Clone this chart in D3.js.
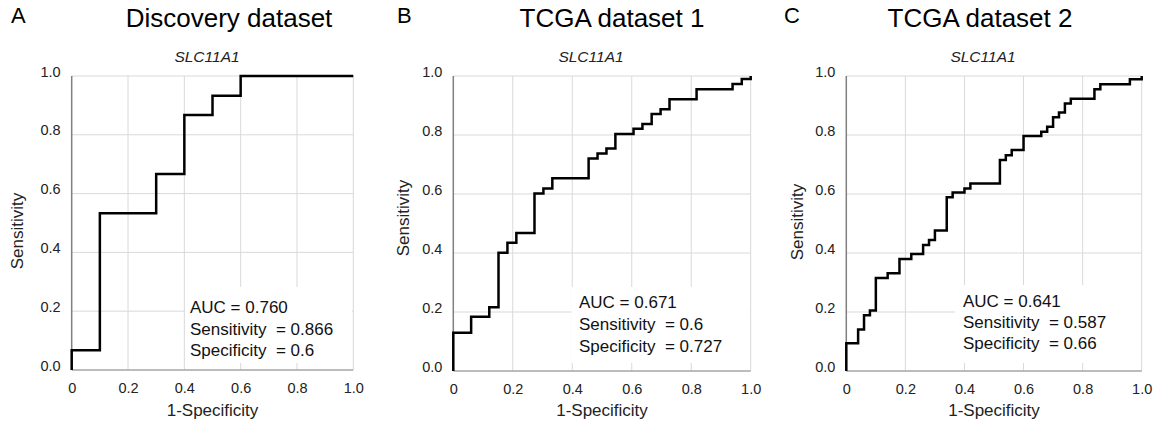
<!DOCTYPE html>
<html>
<head>
<meta charset="utf-8">
<script src="https://cdn.jsdelivr.net/npm/d3@7"></script>
<style>
    body { margin: 0; background: #fff; }
    svg { font-family: "Liberation Sans", Arial, sans-serif; }
    .grid line { stroke: #d9d9d9; stroke-width: 1; }
    .axis text { fill: #222; font-size: 14.5px; }
    .axis .tick line { display: none; }
    .roc { fill: none; stroke: #000; stroke-width: 2.5; stroke-linejoin: miter; }
    .stats text { font-size: 17px; fill: #111; white-space: pre; }
</style>
</head>
<body>
<script>
// panel headings
const panelLetters = ["A", "B", "C"];
const panelTitles = ["Discovery dataset", "TCGA dataset 1", "TCGA dataset 2"];
const geneName = "SLC11A1";

// tick labels shared by every panel
const xTickValues = [0, 0.2, 0.4, 0.6, 0.8, 1.0];
const xTickLabels = ["0", "0.2", "0.4", "0.6", "0.8", "1.0"];
const yTickValues = [0, 0.2, 0.4, 0.6, 0.8, 1.0];
const yTickLabels = ["0.0", "0.2", "0.4", "0.6", "0.8", "1.0"];

// ROC corner points (1-specificity, sensitivity)
const discoveryFpr = [0, 0, 0.1, 0.3, 0.4, 0.5, 0.6, 1.0];
const discoveryTpr = [0, 0.067, 0.533, 0.667, 0.867, 0.933, 1.0, 1.0];

const tcga1Fpr = [0, 0, 0.06, 0.121, 0.152, 0.182, 0.212, 0.273, 0.303, 0.333, 0.455, 0.485,
    0.515, 0.545, 0.606, 0.636, 0.667, 0.697, 0.727, 0.818, 0.939, 0.97, 1.0];
const tcga1Tpr = [0, 0.13, 0.184, 0.216, 0.401, 0.435, 0.468, 0.602, 0.619, 0.653, 0.72, 0.737,
    0.754, 0.803, 0.821, 0.837, 0.871, 0.887, 0.921, 0.955, 0.973, 0.99, 1.0];

const tcga2Fpr = [0, 0, 0.04, 0.06, 0.08, 0.10, 0.14, 0.18, 0.22, 0.26, 0.28, 0.30, 0.34, 0.36, 0.40,
    0.42, 0.52, 0.54, 0.56, 0.60, 0.66, 0.68, 0.70, 0.72, 0.74, 0.76, 0.84, 0.86, 0.96, 1.0];
const tcga2Tpr = [0, 0.094, 0.141, 0.189, 0.205, 0.315, 0.331, 0.38, 0.397, 0.427, 0.444, 0.476, 0.589,
    0.605, 0.619, 0.636, 0.715, 0.731, 0.749, 0.797, 0.811, 0.828, 0.86, 0.876, 0.907, 0.923, 0.955,
    0.972, 0.989, 1.0];

// summary text in the box of each panel
const aucValues = ["0.760", "0.671", "0.641"];
const sensitivityValues = ["0.866", "0.6", "0.587"];
const specificityValues = ["0.6", "0.727", "0.66"];

const fprSeries = [discoveryFpr, tcga1Fpr, tcga2Fpr];
const tprSeries = [discoveryTpr, tcga1Tpr, tcga2Tpr];

// pixel layout of each panel (plot area + where headings sit)
const layout = [
    { left: 71.7, right: 353.3, top: 76, bottom: 370, letterX: 11, titleX: 229, geneX: 207, yTitleX: 17, yTitleY: 231,
      box: { x: 185, y: 287, w: 167, h: 76 }, textX: 190, textY: 313, lineH: 21.5 },
    { left: 453.3, right: 750.7, top: 76, bottom: 371, letterX: 397, titleX: 612, geneX: 591, yTitleX: 403, yTitleY: 218,
      box: { x: 571.5, y: 287, w: 178, h: 76 }, textX: 579, textY: 308, lineH: 21.8 },
    { left: 846.3, right: 1141.7, top: 76, bottom: 371, letterX: 784, titleX: 980, geneX: 983, yTitleX: 797, yTitleY: 222,
      box: { x: 955, y: 285, w: 186, h: 78 }, textX: 963, textY: 307, lineH: 20.8 }
];

class RocPanel {
    constructor(args) {
        this.svg = args.svg;
        this.i = args.index;
        this.lay = layout[this.i];
        this.draw();
    }

    draw() {
        const L = this.lay;
        this.xScale = d3.scaleLinear().domain([0, 1]).range([L.left, L.right]);
        this.yScale = d3.scaleLinear().domain([0, 1]).range([L.bottom, L.top]);
        this.g = this.svg.append("g").attr("class", "panel");

        this.addHeadings();
        this.addGrid();
        this.addStatsBox();
        this.addAxes();
        this.addCurve();
        this.addStatsText();
    }

    addHeadings() {
        const L = this.lay;
        this.g.append("text")
            .attr("x", L.letterX).attr("y", 22.5)
            .style("font-size", "22px")
            .text(panelLetters[this.i]);

        this.g.append("text")
            .attr("x", L.titleX).attr("y", 27)
            .attr("text-anchor", "middle")
            .style("font-size", "26px")
            .text(panelTitles[this.i]);

        this.g.append("text")
            .attr("x", L.geneX).attr("y", 62)
            .attr("text-anchor", "middle")
            .style("font-size", "15.5px")
            .style("font-style", "italic")
            .style("fill", "#222")
            .text(geneName);
    }

    addGrid() {
        const grid = this.g.append("g").attr("class", "grid");
        grid.selectAll(".vx")
            .data(xTickValues.slice(1))
            .enter().append("line")
            .attr("x1", d => this.xScale(d)).attr("x2", d => this.xScale(d))
            .attr("y1", this.yScale(0)).attr("y2", this.yScale(1));
        grid.selectAll(".hy")
            .data(yTickValues.slice(1))
            .enter().append("line")
            .attr("x1", this.xScale(0)).attr("x2", this.xScale(1))
            .attr("y1", d => this.yScale(d)).attr("y2", d => this.yScale(d));
    }

    addStatsBox() {
        const b = this.lay.box;
        this.g.append("rect")
            .attr("x", b.x).attr("y", b.y)
            .attr("width", b.w).attr("height", b.h)
            .style("fill", "#fff");
    }

    addAxes() {
        const L = this.lay;
        const xAxis = this.g.append("g")
            .attr("class", "x axis")
            .attr("transform", "translate(0," + L.bottom + ")")
            .call(d3.axisBottom(this.xScale)
                .tickValues(xTickValues)
                .tickFormat((d, k) => xTickLabels[k])
                .tickSize(0));
        xAxis.select(".domain").remove();
        xAxis.selectAll("text").attr("y", 23).attr("dy", 0);

        const yAxis = this.g.append("g")
            .attr("class", "y axis")
            .attr("transform", "translate(" + L.left + ",0)")
            .call(d3.axisLeft(this.yScale)
                .tickValues(yTickValues)
                .tickFormat((d, k) => yTickLabels[k])
                .tickSize(0));
        yAxis.select(".domain").remove();
        yAxis.selectAll("text").attr("x", -11).attr("dy", 0);

        // axis lines: left darker, bottom a mid grey
        this.g.append("line")
            .attr("x1", this.xScale(0)).attr("x2", this.xScale(1))
            .attr("y1", this.yScale(0)).attr("y2", this.yScale(0))
            .style("stroke", "#a6a6a6").style("stroke-width", 1.5);
        this.g.append("line")
            .attr("x1", this.xScale(0)).attr("x2", this.xScale(0))
            .attr("y1", this.yScale(0)).attr("y2", this.yScale(1))
            .style("stroke", "#7f7f7f").style("stroke-width", 1.5);

        this.g.append("text")
            .attr("x", (L.left + L.right) / 2).attr("y", 416)
            .attr("text-anchor", "middle")
            .style("font-size", "17px").style("fill", "#222")
            .text("1-Specificity");

        this.g.append("text")
            .attr("transform", "translate(" + L.yTitleX + "," + L.yTitleY + ") rotate(-90)")
            .attr("text-anchor", "middle")
            .attr("dy", "0.35em")
            .style("font-size", "17px").style("fill", "#222")
            .text("Sensitivity");
    }

    addCurve() {
        const fpr = fprSeries[this.i];
        const tpr = tprSeries[this.i];
        const line = d3.line()
            .x(k => this.xScale(fpr[k]))
            .y(k => this.yScale(tpr[k]))
            .curve(d3.curveStepAfter);
        this.g.append("path")
            .datum(d3.range(fpr.length))
            .attr("class", "roc")
            .attr("d", line);
    }

    addStatsText() {
        const L = this.lay;
        const lines = [
            "AUC = " + aucValues[this.i],
            "Sensitivity  = " + sensitivityValues[this.i],
            "Specificity  = " + specificityValues[this.i]
        ];
        this.g.append("g").attr("class", "stats")
            .selectAll("text")
            .data(lines)
            .enter().append("text")
            .attr("x", L.textX)
            .attr("y", (d, k) => L.textY + k * L.lineH)
            .text(d => d);
    }
}

const svg = d3.select("body").append("svg")
    .attr("width", 1158)
    .attr("height", 425);

panelTitles.forEach((t, i) => new RocPanel({ svg: svg, index: i }));
</script>
</body>
</html>
